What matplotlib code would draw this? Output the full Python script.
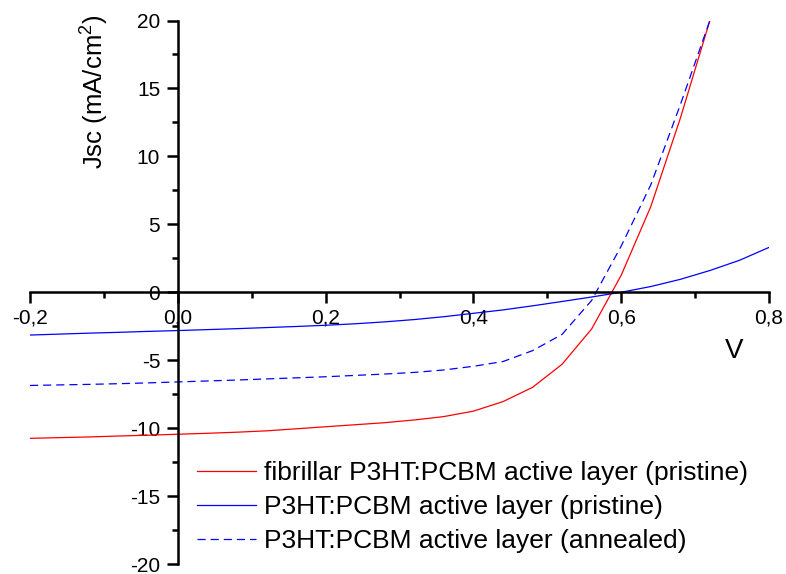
import numpy as np
import matplotlib
matplotlib.use("Agg")
from matplotlib import pyplot as plt
from matplotlib.ticker import MultipleLocator

plt.rcParams['font.family'] = ['Liberation Sans', 'DejaVu Sans']
plt.rcParams['mathtext.fontset'] = 'custom'
plt.rcParams['mathtext.rm'] = 'Liberation Sans'
plt.rcParams['mathtext.it'] = 'Liberation Sans:italic'

# voltage (V) and current density (mA/cm2)
v_short = [-0.20, -0.16, -0.12, -0.08, -0.04, 0.00, 0.04, 0.08, 0.12, 0.16, 0.20, 0.24,
           0.28, 0.32, 0.36, 0.40, 0.44, 0.48, 0.52, 0.56, 0.60, 0.64, 0.68, 0.72]
v_long = v_short + [0.76, 0.80]

j_fibrillar = [-10.75, -10.70, -10.65, -10.58, -10.52, -10.45, -10.38, -10.30, -10.20, -10.05,
               -9.90, -9.75, -9.60, -9.40, -9.15, -8.75, -8.05, -7.00, -5.30, -2.70,
               1.25, 6.30, 12.80, 20.00]
j_pristine = [-3.15, -3.08, -3.01, -2.95, -2.88, -2.82, -2.75, -2.68, -2.60, -2.52,
              -2.43, -2.32, -2.18, -2.01, -1.80, -1.55, -1.30, -1.00, -0.68, -0.35,
              0.00, 0.42, 0.95, 1.60, 2.35, 3.30]
j_annealed = [-6.86, -6.82, -6.78, -6.73, -6.67, -6.60, -6.53, -6.46, -6.38, -6.30,
              -6.22, -6.12, -6.02, -5.90, -5.72, -5.45, -5.10, -4.30, -3.10, -0.60,
              3.40, 7.90, 13.80, 20.00]

labels = ['fibrillar P3HT:PCBM active layer (pristine)',
          'P3HT:PCBM active layer (pristine)',
          'P3HT:PCBM active layer (annealed)']

xticks = [-0.2, 0.0, 0.2, 0.4, 0.6, 0.8]
xticklabels = ['-0,2', '0,0', '0,2', '0,4', '0,6', '0,8']
yticks = [-20, -15, -10, -5, 0, 5, 10, 15, 20]
yticklabels = ['-20', '-15', '-10', '-5', '0', '5', '10', '15', '20']

W, H = 786, 574
fig = plt.figure(figsize=(W / 100, H / 100), dpi=100, facecolor='w')
ax = fig.add_axes([30 / W, (H - 564) / H, (769 - 30) / W, (564 - 20.5) / H])

ax.plot(v_short, j_fibrillar, color='#ff0000', lw=0.9, label=labels[0])
ax.plot(v_long, j_pristine, color='#0000ff', lw=0.9, label=labels[1])
ax.plot(v_short, j_annealed, color='#0000ff', lw=0.9, linestyle=(0, (6.5, 4.0)), label=labels[2])

ax.set_xlim(-0.2, 0.8)
ax.set_ylim(-20, 20)

for s in ['top', 'right']:
    ax.spines[s].set_visible(False)
ax.spines['left'].set_position(('data', 0))
ax.spines['bottom'].set_position(('data', 0))
for s in ['left', 'bottom']:
    ax.spines[s].set_linewidth(1.8)

ax.set_xticks(xticks)
ax.set_xticklabels(xticklabels)
ax.set_yticks(yticks)
ax.set_yticklabels(yticklabels)
ax.xaxis.set_minor_locator(MultipleLocator(0.1))
ax.yaxis.set_minor_locator(MultipleLocator(2.5))
ax.tick_params(which='major', direction='out', length=7.7, width=1.8, labelsize=15)
ax.tick_params(which='minor', direction='out', length=4.5, width=1.8)
ax.tick_params(axis='x', which='major', pad=4.0)
ax.tick_params(axis='y', which='major', pad=5.0)

fig.text(95 / W, 1 - 92 / H, 'Jsc (mA/cm$^2$)', rotation=90, ha='center', va='center', fontsize=18.5)
fig.text(734 / W, 1 - 351 / H, 'V', ha='center', va='center', fontsize=20)

ax.legend(loc='upper left', bbox_to_anchor=(196.5 / W, 1 - 461 / H), bbox_transform=fig.transFigure,
          frameon=False, fontsize=19, borderpad=0, borderaxespad=0, handlelength=2.25,
          handletextpad=0.3, labelspacing=0.38)

fig.savefig('out.png', dpi=100, facecolor='w')
